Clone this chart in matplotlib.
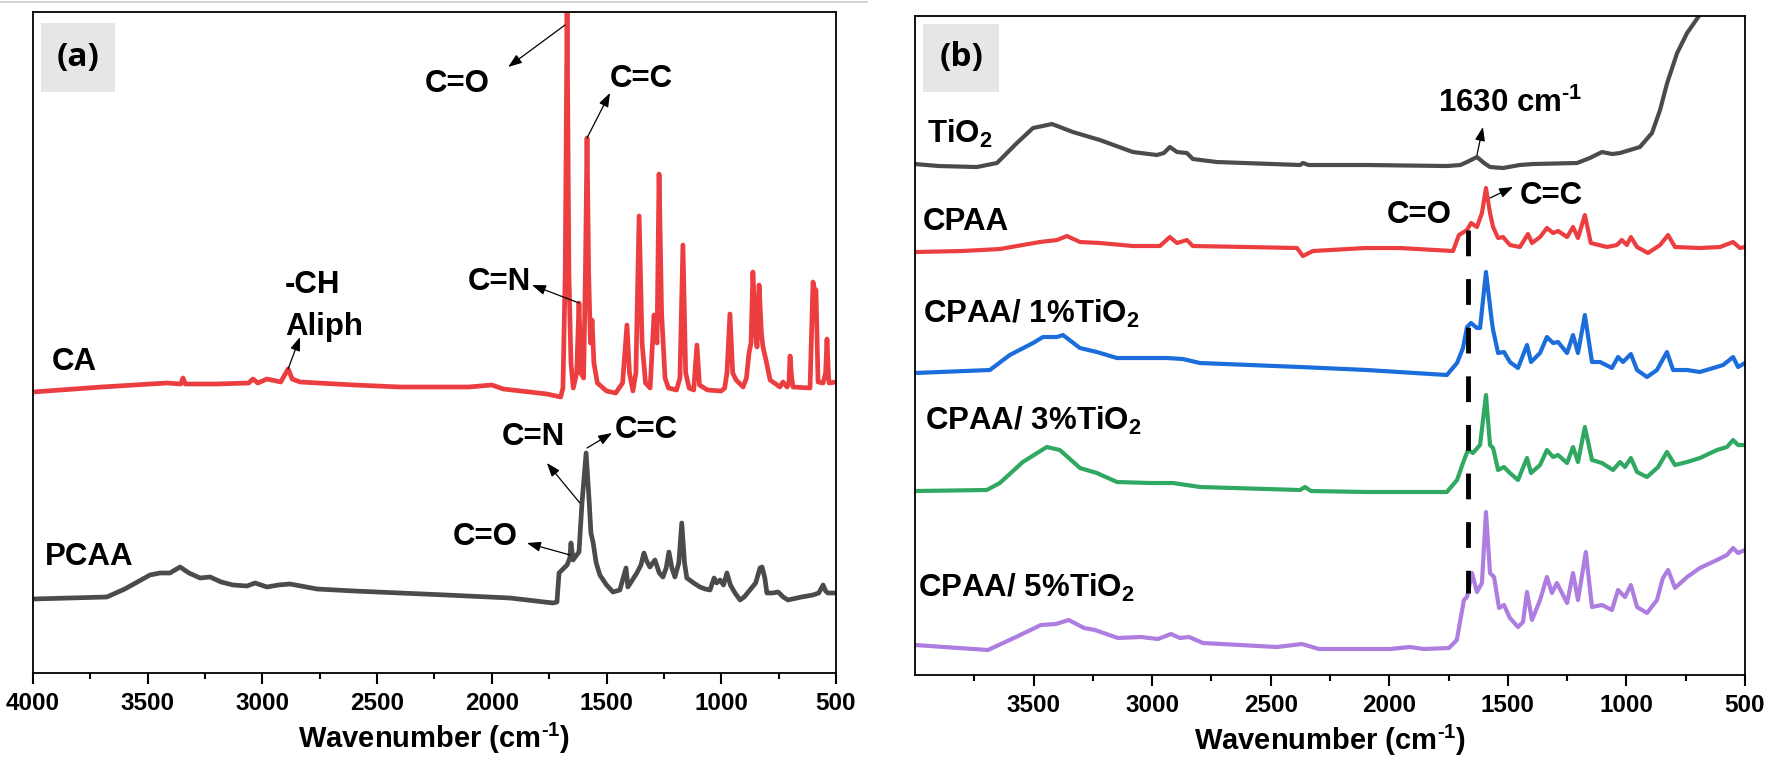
import matplotlib
matplotlib.use('Agg')
import matplotlib.pyplot as plt
from matplotlib.patches import Rectangle
from matplotlib.lines import Line2D

plt.rcParams['font.family'] = ['Liberation Sans', 'DejaVu Sans']
plt.rcParams['font.weight'] = 'bold'
plt.rcParams['mathtext.fontset'] = 'custom'
plt.rcParams['mathtext.rm'] = 'Liberation Sans:bold'
plt.rcParams['mathtext.bf'] = 'Liberation Sans:bold'
plt.rcParams['mathtext.it'] = 'Liberation Sans:bold'
plt.rcParams['mathtext.default'] = 'bf'

# ---- panel (a) spectra (wavenumber, arbitrary offset intensity) ----
ca_wn = [4000, 3700, 3416, 3356, 3346, 3336, 3200, 3060, 3041, 3020, 2980, 2920, 2888, 2870, 2836,
         2600, 2400, 2100, 2000, 1950, 1760, 1700, 1690, 1680, 1672, 1664, 1655, 1645, 1630, 1620,
         1612, 1600, 1592, 1585, 1578, 1570, 1563, 1555, 1540, 1500, 1460, 1430, 1411, 1400, 1385,
         1372, 1358, 1345, 1330, 1310, 1293, 1280, 1271, 1260, 1245, 1230, 1195, 1180, 1167, 1155,
         1140, 1120, 1106, 1095, 1060, 1000, 985, 975, 962, 950, 935, 905, 890, 879, 870, 862, 850,
         844, 835, 825, 818, 805, 787, 744, 731, 713, 705, 700, 693, 687, 613, 600, 593, 587, 578,
         556, 545, 539, 533, 530, 500]
ca_int = [281, 286, 290, 289, 295, 289, 289, 290, 294, 290, 294, 291, 304, 294, 291,
          288, 286, 286, 288, 284, 279, 276, 285, 400, 661, 400, 310, 285, 300, 370,
          300, 295, 400, 535, 400, 330, 353, 310, 290, 282, 280, 290, 348, 300, 282,
          300, 457, 330, 290, 285, 358, 330, 499, 360, 295, 285, 283, 295, 428, 300,
          285, 283, 328, 288, 283, 282, 285, 300, 359, 300, 293, 286, 295, 320, 330, 401, 340,
          326, 388, 340, 326, 313, 293, 286, 291, 286, 290, 317, 295, 286, 285, 391, 383, 383, 291,
          290, 300, 334, 300, 290, 291]

pcaa_wn = [4000, 3678, 3600, 3490, 3446, 3403, 3359, 3320, 3272, 3228, 3180, 3128, 3067, 3032, 2980,
           2930, 2880, 2762, 2600, 2400, 2200, 1921, 1733, 1716, 1707, 1694, 1672, 1660, 1655, 1646,
           1630, 1620, 1607, 1589, 1576, 1568, 1559, 1545, 1529, 1500, 1472, 1442, 1415, 1407, 1390,
           1368, 1350, 1337, 1325, 1311, 1289, 1270, 1254, 1240, 1228, 1215, 1202, 1185, 1172, 1160,
           1150, 1120, 1093, 1070, 1049, 1031, 1020, 1005, 990, 975, 960, 940, 918, 900, 875, 850,
           831, 822, 810, 801, 775, 752, 730, 709, 650, 600, 575, 556, 545, 535, 500]
pcaa_int = [74, 76, 84, 98, 100, 100, 106, 100, 95, 96, 91, 88, 87, 90, 86,
            88, 89, 84, 82, 80, 78, 75, 70, 71, 100, 103, 108, 115, 130, 113,
            118, 121, 170, 220, 173, 140, 131, 110, 98, 88, 81, 83, 105, 86, 92,
            100, 108, 120, 112, 106, 113, 100, 96, 105, 121, 105, 96, 110, 150, 110,
            95, 90, 86, 84, 83, 95, 90, 93, 88, 100, 88, 80, 73, 76, 83, 90,
            105, 106, 95, 80, 80, 81, 76, 73, 76, 78, 80, 88, 82, 80, 80]

# ---- panel (b) spectra ----
tio2_wn = [4000, 3900, 3739, 3654, 3570, 3502, 3422, 3334, 3220, 3081, 2980, 2950, 2925, 2895, 2853,
           2828, 2727, 2376, 2364, 2340, 2094, 1757, 1700, 1672, 1630, 1600, 1575, 1520, 1450, 1394,
           1208, 1154, 1103, 1060, 1027, 943, 892, 858, 828, 786, 744, 697, 660, 620]
tio2_int = [511, 509, 508, 512, 532, 547, 551, 543, 535, 523, 520, 522, 528, 523, 522,
            516, 513, 510, 512, 510, 510, 509, 510, 513, 518, 512, 508, 507, 510, 511,
            512, 517, 523, 521, 522, 528, 542, 565, 592, 622, 642, 658, 672, 685]

cpaa_wn = [4000, 3800, 3642, 3473, 3401, 3359, 3304, 3220, 3081, 2967, 2925, 2895, 2853, 2828, 2600,
           2389, 2364, 2322, 2100, 1955, 1731, 1706, 1672, 1655, 1630, 1609, 1592, 1575, 1562, 1541,
           1520, 1491, 1449, 1415, 1398, 1364, 1335, 1309, 1288, 1250, 1225, 1204, 1175, 1150, 1082,
           1040, 1019, 998, 981, 955, 909, 858, 824, 795, 690, 605, 550, 521, 500]
cpaa_int = [423, 424, 426, 433, 435, 439, 433, 432, 429, 429, 438, 432, 435, 429, 428,
            427, 419, 424, 427, 427, 424, 440, 445, 452, 448, 462, 487, 462, 448, 437,
            438, 430, 428, 441, 432, 438, 447, 442, 444, 438, 448, 437, 460, 432, 428,
            430, 435, 430, 438, 428, 422, 430, 440, 428, 427, 428, 433, 427, 428]

c1_wn = [4000, 3684, 3600, 3502, 3460, 3401, 3376, 3304, 3233, 3148, 3051, 2938, 2870, 2798, 2376,
         2094, 1757, 1714, 1689, 1672, 1655, 1630, 1617, 1592, 1567, 1562, 1541, 1516, 1491, 1457,
         1419, 1402, 1364, 1335, 1309, 1288, 1250, 1225, 1204, 1175, 1145, 1111, 1061, 1035, 1014,
         981, 955, 913, 871, 829, 803, 744, 690, 592, 550, 529, 500]
c1_int = [302, 305, 320, 332, 338, 338, 340, 327, 323, 317, 317, 317, 316, 312, 308,
          305, 300, 312, 327, 348, 352, 347, 347, 403, 353, 345, 322, 323, 313, 307,
          330, 313, 322, 338, 332, 333, 322, 340, 322, 360, 313, 313, 307, 318, 313,
          321, 305, 298, 305, 323, 305, 305, 303, 310, 318, 308, 312]

c3_wn = [4000, 3697, 3642, 3545, 3444, 3389, 3304, 3233, 3148, 3009, 2912, 2798, 2376, 2355, 2330,
         2094, 1757, 1714, 1689, 1668, 1647, 1617, 1592, 1575, 1562, 1541, 1516, 1491, 1457, 1419,
         1402, 1364, 1335, 1309, 1288, 1250, 1225, 1204, 1175, 1145, 1103, 1056, 1027, 1006, 981,
         955, 913, 866, 829, 795, 744, 690, 618, 576, 550, 529, 500]
c3_int = [184, 185, 192, 213, 228, 225, 207, 202, 193, 192, 192, 188, 185, 188, 184,
          183, 183, 195, 212, 225, 222, 230, 280, 230, 227, 205, 208, 202, 195, 217,
          202, 210, 225, 218, 220, 212, 228, 213, 248, 215, 212, 205, 213, 208, 217,
          203, 198, 208, 223, 210, 213, 217, 225, 228, 235, 230, 230]

c5_wn = [4000, 3692, 3574, 3469, 3406, 3351, 3287, 3241, 3144, 3047, 2975, 2920, 2882, 2844, 2785,
         2474, 2368, 2296, 1997, 1913, 1854, 1748, 1715, 1700, 1685, 1672, 1651, 1630, 1609, 1592,
         1575, 1558, 1537, 1516, 1491, 1457, 1436, 1419, 1398, 1364, 1335, 1314, 1293, 1250, 1225,
         1204, 1171, 1145, 1103, 1061, 1035, 1006, 981, 955, 913, 871, 846, 824, 795, 744, 690,
         618, 576, 550, 529, 500]
c5_int = [30, 25, 38, 50, 51, 55, 47, 45, 37, 38, 36, 41, 37, 38, 32,
          28, 31, 26, 26, 28, 26, 27, 35, 55, 75, 78, 102, 83, 92, 163,
          102, 98, 67, 70, 57, 48, 53, 83, 55, 75, 98, 82, 92, 72, 102,
          75, 123, 68, 70, 65, 85, 78, 90, 68, 62, 75, 97, 105, 87, 98, 107,
          115, 120, 127, 122, 125]

red = '#ec3d40'
grey = '#4b4b4b'
blue = '#1a6ddb'
green = '#30a862'
purple = '#ad7ddf'

fig = plt.figure(figsize=(17.69, 7.74), dpi=100)
fig.add_artist(Line2D([0, 0.49], [0.9975, 0.9975], color='#cccccc', lw=1.2))

ax1 = fig.add_axes([0.01865, 0.1305, 0.4539, 0.854])
ax2 = fig.add_axes([0.5172, 0.1279, 0.4692, 0.8514])

unit = r'(cm$^{\text{-1}}$)'


def style(ax, ticks, minor, lim):
    ax.set_xlim(*lim)
    ax.set_xticks(ticks)
    ax.set_xticks(minor, minor=True)
    ax.set_yticks([])
    ax.tick_params(axis='x', which='major', direction='out', length=8, width=1.5,
                   labelsize=17.5, pad=6)
    ax.tick_params(axis='x', which='minor', direction='out', length=4.5, width=1.5)
    for s in ax.spines.values():
        s.set_linewidth(1.3)
    ax.set_xlabel('Wavenumber ' + unit, fontsize=21, fontweight='bold', labelpad=4)
    for lab in ax.get_xticklabels():
        lab.set_fontweight('bold')


def arrow(ax, tail, head):
    ax.annotate('', xy=head, xytext=tail,
                arrowprops=dict(arrowstyle='-|>,head_length=0.55,head_width=0.2', color='black',
                                lw=0.9, shrinkA=0, shrinkB=0, mutation_scale=15))


def tag(ax, text, box):
    ax.add_patch(Rectangle((box[0], box[1]), box[2], box[3], transform=ax.transAxes,
                           facecolor='#e6e6e6', edgecolor='none', zorder=1))
    ax.text(box[0] + box[2] / 2, box[1] + box[3] / 2, text, transform=ax.transAxes,
            ha='center', va='center', fontsize=24, fontweight='bold', family='Open Sans', zorder=2)


# panel (a)
ax1.plot(ca_wn, ca_int, color=red, lw=3.4, solid_joinstyle='round')
ax1.plot(pcaa_wn, pcaa_int, color=grey, lw=3.4, solid_joinstyle='round')
ax1.set_ylim(0, 661)
style(ax1, list(range(4000, 499, -500)), list(range(3750, 500, -500)), (4000, 500))
tag(ax1, '(a)', (0.010, 0.879, 0.092, 0.104))

fs = 22.5
ax1.text(3917, 303, 'CA', fontsize=fs, ha='left', va='baseline')
ax1.text(3948, 108, 'PCAA', fontsize=fs, ha='left', va='baseline')
ax1.text(2901, 380, '-CH', fontsize=fs, ha='left', va='baseline')
ax1.text(2901, 338, 'Aliph', fontsize=fs, ha='left', va='baseline')
arrow(ax1, (2888, 304), (2836, 336))
ax1.text(2291, 581, 'C=O', fontsize=fs, ha='left', va='baseline')
arrow(ax1, (1681, 648), (1929, 606))
ax1.text(1485, 586, 'C=C', fontsize=fs, ha='left', va='baseline')
arrow(ax1, (1585, 535), (1485, 580))
ax1.text(2104, 383, 'C=N', fontsize=fs, ha='left', va='baseline')
arrow(ax1, (1620, 370), (1825, 388))
ax1.text(1956, 228, 'C=N', fontsize=fs, ha='left', va='baseline')
arrow(ax1, (1616, 170), (1760, 210))
ax1.text(1463, 235, 'C=C', fontsize=fs, ha='left', va='baseline')
arrow(ax1, (1585, 225), (1476, 240))
ax1.text(2169, 128, 'C=O', fontsize=fs, ha='left', va='baseline')
arrow(ax1, (1659, 118), (1847, 130))

# panel (b)
ax2.plot(tio2_wn, tio2_int, color=grey, lw=3.0, solid_joinstyle='round')
ax2.plot(cpaa_wn, cpaa_int, color=red, lw=3.0, solid_joinstyle='round')
ax2.plot(c1_wn, c1_int, color=blue, lw=3.0, solid_joinstyle='round')
ax2.plot(c3_wn, c3_int, color=green, lw=3.0, solid_joinstyle='round')
ax2.plot(c5_wn, c5_int, color=purple, lw=3.0, solid_joinstyle='round')
ax2.plot([1668, 1668], [445, 82], color='black', lw=3.5, dashes=(5.3, 4.7))
ax2.set_ylim(0, 659)
style(ax2, list(range(3500, 499, -500)), list(range(3750, 500, -500)), (4000, 500))
tag(ax2, '(b)', (0.0096, 0.885, 0.092, 0.103))

ax2.text(3949, 532, 'TiO$_2$', fontsize=fs, ha='left', va='baseline')
ax2.text(3966, 445, 'CPAA', fontsize=fs, ha='left', va='baseline')
ax2.text(3966, 352, 'CPAA/ 1%TiO$_2$', fontsize=fs, ha='left', va='baseline')
ax2.text(3958, 245, 'CPAA/ 3%TiO$_2$', fontsize=fs, ha='left', va='baseline')
ax2.text(3987, 78, 'CPAA/ 5%TiO$_2$', fontsize=fs, ha='left', va='baseline')
ax2.text(1795, 563, r'1630 cm$^{\text{-1}}$', fontsize=fs, ha='left', va='baseline')
arrow(ax2, (1630, 520), (1605, 548))
ax2.text(1449, 471, 'C=C', fontsize=fs, ha='left', va='baseline')
arrow(ax2, (1575, 477), (1478, 488))
ax2.text(2010, 452, 'C=O', fontsize=fs, ha='left', va='baseline')

fig.savefig('out.png', dpi=100)
